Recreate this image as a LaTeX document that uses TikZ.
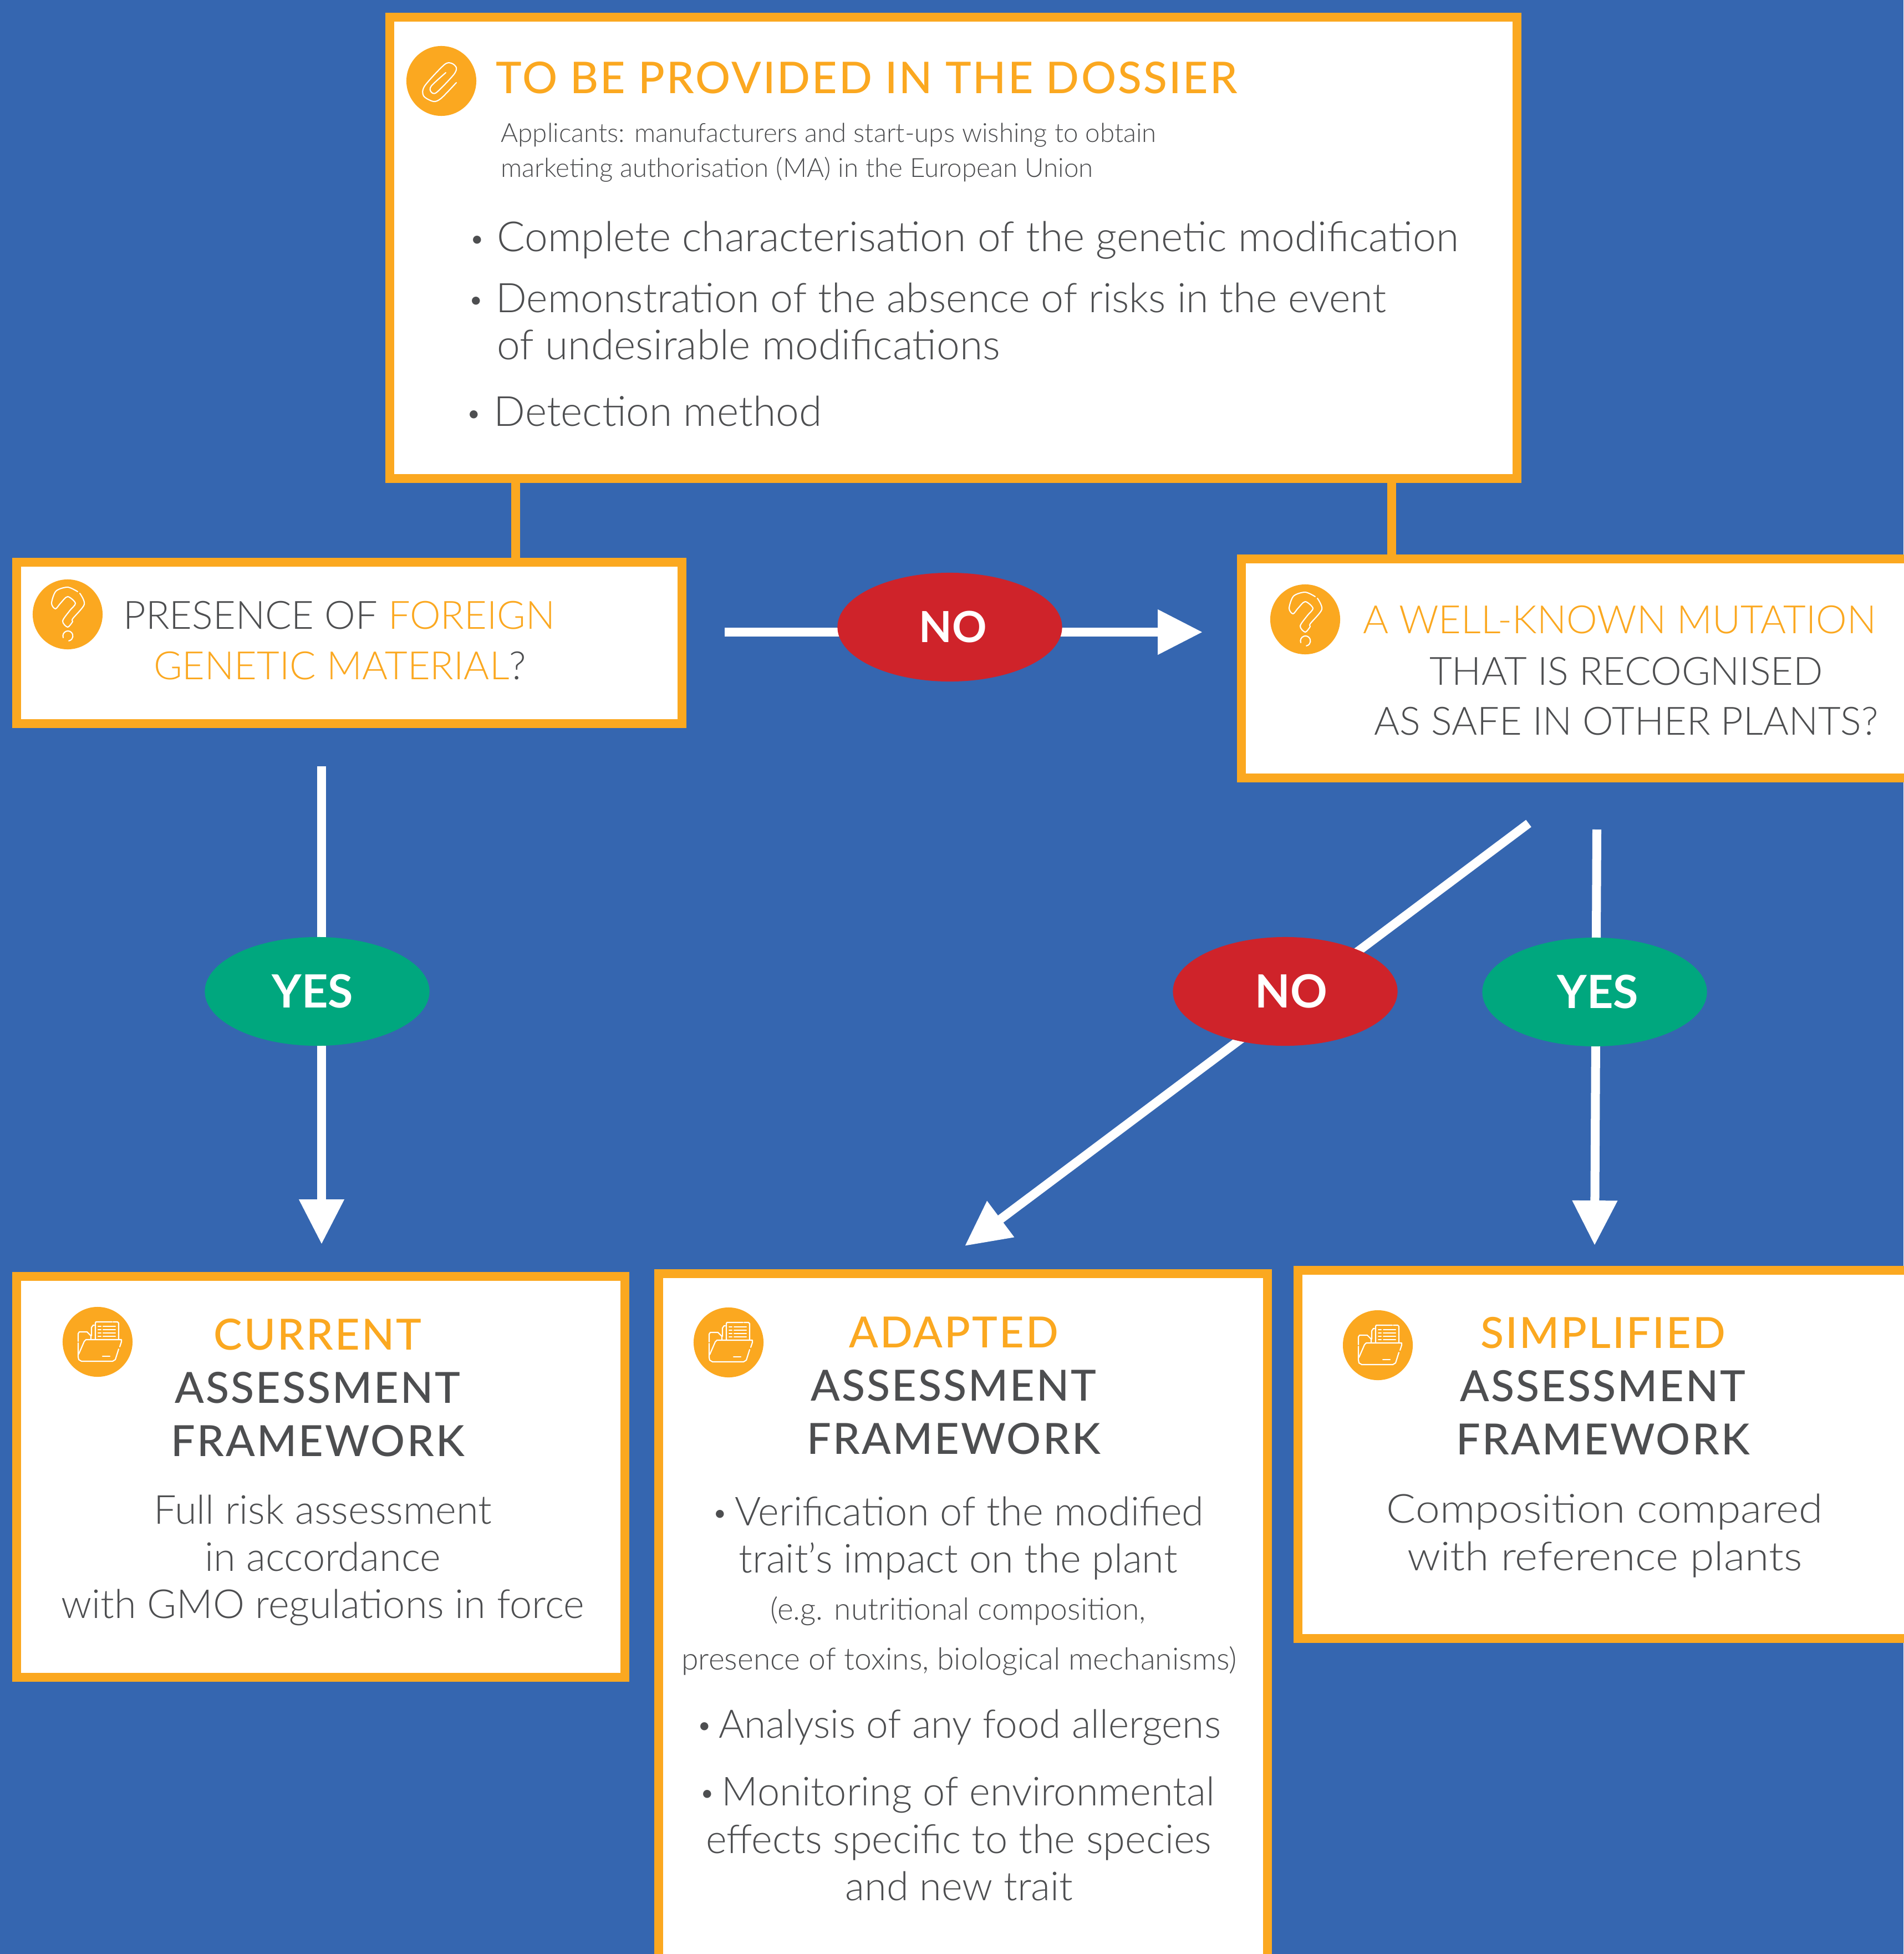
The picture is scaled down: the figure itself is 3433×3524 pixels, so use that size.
\documentclass[tikz,border=0pt]{standalone}
\usepackage{fontspec}
\setmainfont{Lato}[UprightFont=* Light, BoldFont=* Bold]
\newfontfamily\titlefont{Lato Medium}[LetterSpace=4]
\newfontfamily\widefont{Lato Light}[FakeStretch=1.09]
\usetikzlibrary{arrows.meta,shapes.geometric}
\definecolor{bgblue}{HTML}{3566B0}
\definecolor{frameorange}{HTML}{FBA820}
\definecolor{txtgray}{HTML}{4D4E50}
\definecolor{noball}{HTML}{CF232A}
\definecolor{yesball}{HTML}{00A77E}
% Small bullet, the one of the font is too heavy
\newcommand{\dotb}{{\fontsize{14}{14}\selectfont\raisebox{1.6pt}{\textbullet}}}
\newcommand{\dotbox}{\makebox[14.2pt][l]{\dotb}}

\tikzset{
  % Frames and connectors
  frame/.style={draw=frameorange, fill=white, line width=0.16cm, rectangle, inner sep=0pt, outer sep=0pt},
  stem/.style={draw=frameorange, line width=0.16cm},
  flow/.style={draw=white, line width=0.16cm, -{Triangle[length=23pt,width=22pt]}},
  ball/.style={ellipse, inner sep=0pt, minimum width=4.05cm, minimum height=1.96cm, text=white, font=\fontsize{23.5}{26}\selectfont\bfseries},
  iconball/.style={circle, fill=frameorange, inner sep=0pt, minimum size=1.26cm},
  iconline/.style={draw=white, line width=0.6pt, line cap=round, line join=round},
  % Text styles
  txt/.style={anchor=base, inner sep=0pt, text=txtgray},
  txtl/.style={txt, anchor=base west},
  big/.style={font=\fontsize{20.5}{24}\selectfont},
  bigger/.style={font=\fontsize{21.3}{24}\selectfont},
  wide/.style={font=\widefont\fontsize{20.5}{24}\selectfont},
  small/.style={font=\fontsize{13.5}{15}\selectfont},
  tiny/.style={font=\fontsize{15.7}{19}\selectfont},
  ask/.style={font=\fontsize{20}{24}\selectfont},
  head/.style={font=\titlefont\fontsize{22}{26}\selectfont},
  % Icons
  clipicon/.pic={
    \draw[iconline] plot[smooth] coordinates {(27,3) (0,31) (-14,37) (-32,27) (-30,9) (5,-29) (18,-32) (27,-24) (22,-11) (-9,21) (-19,19) (-18,9) (8,-15)};
  },
  askicon/.pic={
    \draw[iconline] plot[smooth] coordinates {(18,-41) (0,-49) (-21,-42) (-29,-20) (-22,-10) (-13,-20) (0,-32) (14,-20) (4,-7) (-9,12) (0,23) (9,13) (9,8) (30,-18) (22,-38)};
    \draw[iconline] (-8,42) arc[start angle=160, end angle=440, radius=9];
  },
  foldericon/.pic={
    \draw[iconline] (-35,-1) -- (-35,-15) -- (-33,-18) -- (-19,-18) -- (-12,-11) -- (-12,-5);
    \draw[iconline] (-11,-11) -- (-11,-26) -- (-8,-30) -- (-6,-30);
    \draw[iconline] (-4,-5) -- (-4,-34) -- (-3,-36) -- (26,-36);
    \draw[iconline] (28,-36) -- (36,-36) -- (38,-34) -- (38,-5);
    \foreach \ypos in {-28,-22,-16,-10} {
      \draw[iconline] (1,\ypos) -- (6,\ypos);
      \draw[iconline] (10,\ypos) -- (32,\ypos);
    }
    \draw[iconline] (-35,2) -- (-35,27) -- (-34,32) -- (-29,35) -- (27,35) -- (32,32) -- (38,13);
    \draw[iconline] (40,9) -- (43,0) -- (43,-4) -- (-21,-4) -- (-24,-1) -- (-34,22);
    \draw[iconline] (9,26) -- (22,26);
  }
}

\begin{document}
\begin{tikzpicture}[x=0.01cm, y=-0.01cm]
\path[use as bounding box, fill=bgblue] (0,0) rectangle (3433,3524);
% -------------------------------------------------
% Boxes
\node [frame, minimum width=20.31cm, minimum height=8.32cm] (dossier) at (1719.5,447) {};
\node [frame, minimum width=12.00cm, minimum height=2.91cm] (foreign) at (630,1159.5) {};
\node [frame, minimum width=12.07cm, minimum height=3.95cm] (mutation) at (2842.5,1205.5) {};
\node [frame, minimum width=10.97cm, minimum height=7.23cm] (current) at (578.5,2663.5) {};
\node [frame, minimum width=10.98cm, minimum height=13.00cm] (adapted) at (1737,2947) {};
\node [frame, minimum width=11.05cm, minimum height=6.64cm] (simplified) at (2893.5,2623) {};
% -------------------------------------------------
% Connectors, the free ends are coordinates
\draw [stem] (dossier.south -| 930,0) -- (foreign.north -| 930,0);
\draw [stem] (dossier.south -| 2510,0) -- (mutation.north -| 2510,0);
\coordinate (nostart) at (1307,1140);
\coordinate (notip) at (2169,1140);
\coordinate (yesstart) at (580,1382);
\coordinate (yestip) at (580,2244);
\coordinate (adaptstart) at (2757,1485);
\coordinate (adapttip) at (1740,2247);
\coordinate (simplestart) at (2880,1496);
\coordinate (simpletip) at (2876,2246);
\draw [flow] (nostart) -- (notip);
\draw [flow] (yesstart) -- (yestip);
\draw [flow] (adaptstart) -- (adapttip);
\draw [flow] (simplestart) -- (simpletip);
% -------------------------------------------------
% Answers on the connectors
\node [ball, fill=noball, font=\fontsize{22}{26}\selectfont\bfseries] (noa) at (1713,1131) {\kern3.4pt NO};
\node [ball, fill=yesball] (yesa) at (572,1788) {\kern-4.6pt YES};
\node [ball, fill=noball] (nob) at (2318,1788) {\kern6pt NO};
\node [ball, fill=yesball] (yesb) at (2876,1789) {\kern3.4pt YES};
% -------------------------------------------------
% Icons
\node [iconball] (iconclip) at (796,146) {};
\pic at (iconclip) {clipicon};
\node [iconball] (iconaska) at (122,1108) {};
\pic at (iconaska) {askicon};
\node [iconball] (iconaskb) at (2354,1117) {};
\pic at (iconaskb) {askicon};
\node [iconball] (iconcur) at (176,2420) {};
\pic at (iconcur) {foldericon};
\node [iconball] (iconada) at (1314,2421) {};
\pic at (iconada) {foldericon};
\node [iconball] (iconsim) at (2485,2426) {};
\pic at (iconsim) {foldericon};
% -------------------------------------------------
% Dossier text
\node [txtl, head, font=\titlefont\fontsize{22.4}{26}\selectfont, text=frameorange] (ttitle) at (894,169) {TO BE PROVIDED IN THE DOSSIER};
\node [txtl, small] (tappa) at (903,256) {Applicants: manufacturers and start-ups wishing to obtain};
\node [txtl, small] (tappb) at (903,319) {marketing authorisation (MA) in the European Union};
\node [txtl, bigger] (tcomp) at (846,453) {\dotbox Complete characterisation of the genetic modification};
\node [txtl, font=\fontsize{20.9}{24}\selectfont] (tdema) at (844,563) {\dotbox Demonstration of the absence of risks in the event};
\node [txtl, bigger] (tdemb) at (896,648) {of undesirable modifications};
\node [txtl, bigger] (tdete) at (840,768) {\dotbox Detection method};
% -------------------------------------------------
% Questions
\node [txt, ask] (tfora) at (612,1134) {PRESENCE OF \textcolor{frameorange}{FOREIGN}};
\node [txt, ask] (tforb) at (613,1225) {\textcolor{frameorange}{GENETIC MATERIAL}?};
\node [txt, ask, text=frameorange] (tmuta) at (2921,1142) {A WELL-KNOWN MUTATION};
\node [txt, ask] (tmutb) at (2933,1235) {THAT IS RECOGNISED};
\node [txt, ask] (tmutc) at (2933,1325) {AS SAFE IN OTHER PLANTS?};
% -------------------------------------------------
% Current framework
\node [txt, head, text=frameorange] (tcura) at (573,2434) {CURRENT};
\node [txt, head] (tcurb) at (573,2530) {ASSESSMENT};
\node [txt, head] (tcurc) at (573,2626) {FRAMEWORK};
\node [txt, big] (tcurd) at (582,2748) {Full risk assessment};
\node [txt, big] (tcure) at (582,2833) {in accordance};
\node [txt, big] (tcurf) at (582,2918) {with GMO regulations in force};
% Adapted framework
\node [txt, head, text=frameorange] (tadaa) at (1720,2430) {ADAPTED};
\node [txt, head] (tadab) at (1720,2526) {ASSESSMENT};
\node [txt, head] (tadac) at (1720,2622) {FRAMEWORK};
\node [txt, big] (tadad) at (1728,2751) {\dotb\,Verification of the modified};
\node [txt, big] (tadae) at (1728,2836) {trait’s impact on the plant};
\node [txt, tiny] (tadaf) at (1728,2921) {(e.g. nutritional composition,};
\node [txt, tiny] (tadag) at (1730,3011) {presence of toxins, biological mechanisms)};
\node [txt, font=\fontsize{20.2}{24}\selectfont] (tadah) at (1729,3134) {\dotb\,Analysis of any food allergens};
\node [txt, big] (tadai) at (1726,3256) {\dotb\,Monitoring of environmental};
\node [txt, big] (tadaj) at (1729,3342) {effects specific to the species};
\node [txt, big] (tadak) at (1730,3427) {and new trait};
% Simplified framework
\node [txt, head, text=frameorange] (tsima) at (2891,2431) {SIMPLIFIED};
\node [txt, head] (tsimb) at (2891,2527) {ASSESSMENT};
\node [txt, head] (tsimc) at (2891,2623) {FRAMEWORK};
\node [txt, wide] (tsimd) at (2894,2746) {Composition compared};
\node [txt, wide] (tsime) at (2894,2832) {with reference plants};
\end{tikzpicture}
\end{document}
